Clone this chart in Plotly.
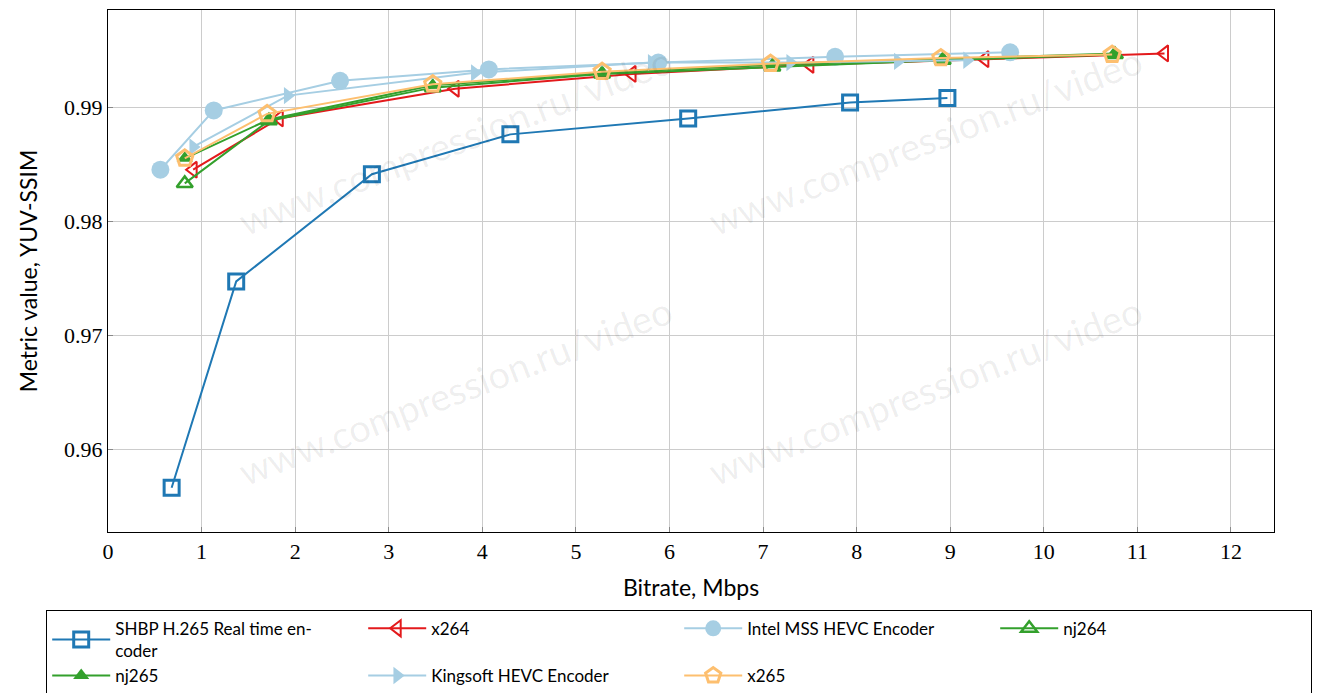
import plotly.graph_objects as go

shbp_x = [0.68, 1.37, 2.82, 4.30, 6.20, 7.93, 8.97]
shbp_y = [0.9566, 0.9747, 0.9841, 0.9876, 0.9890, 0.9904, 0.9908]

x264_x = [0.91, 1.83, 3.71, 5.60, 7.50, 9.37, 11.29]
x264_y = [0.9845, 0.9890, 0.9916, 0.9929, 0.9937, 0.9942, 0.9947]

intel_x = [0.56, 1.13, 2.48, 4.07, 5.88, 7.77, 9.64]
intel_y = [0.9845, 0.9897, 0.9923, 0.9933, 0.9939, 0.9944, 0.9948]

nj264_x = [0.82, 1.72, 3.47, 5.28, 7.10, 8.92, 10.76]
nj264_y = [0.9833, 0.9888, 0.9917, 0.9929, 0.9935, 0.9941, 0.9946]

nj265_x = [0.82, 1.72, 3.47, 5.28, 7.10, 8.92, 10.76]
nj265_y = [0.9855, 0.9889, 0.9919, 0.9930, 0.9937, 0.9942, 0.9947]

kingsoft_x = [0.91, 1.92, 3.92, 5.81, 7.29, 8.44, 9.18]
kingsoft_y = [0.9865, 0.9910, 0.9930, 0.9939, 0.9939, 0.9940, 0.9941]

x265_x = [0.82, 1.70, 3.47, 5.28, 7.08, 8.90, 10.73]
x265_y = [0.9855, 0.9894, 0.9920, 0.9931, 0.9938, 0.9943, 0.9946]

x_ticks = [0, 1, 2, 3, 4, 5, 6, 7, 8, 9, 10, 11, 12]
y_ticks = [0.96, 0.97, 0.98, 0.99]
y_tick_labels = ["0.96", "0.97", "0.98", "0.99"]

series = [
    ("SHBP H.265 Real time en-<br>coder", shbp_x, shbp_y, "#1f78b4", "square-open", 15, 3),
    ("x264", x264_x, x264_y, "#e31a1c", "triangle-left-open", 14, 2),
    ("Intel MSS HEVC Encoder", intel_x, intel_y, "#a6cee3", "circle", 18, 0),
    ("nj264", nj264_x, nj264_y, "#33a02c", "triangle-up-open", 14, 2.5),
    ("nj265", nj265_x, nj265_y, "#33a02c", "triangle-up", 14, 0),
    ("Kingsoft HEVC Encoder", kingsoft_x, kingsoft_y, "#a6cee3", "triangle-right", 15, 0),
    ("x265", x265_x, x265_y, "#fdbf6f", "pentagon-open", 17, 3),
]

fig = go.Figure()
for name, xs, ys, col, sym, size, mlw in series:
    fig.add_trace(go.Scatter(
        x=xs, y=ys, name=name, mode="lines+markers",
        line=dict(color=col, width=2),
        marker=dict(symbol=sym, size=size, color=col,
                    line=dict(color=col, width=mlw)),
    ))

wm = "www.compression.ru/video"
for wx, wy in [(0.2976, 0.751), (0.7007, 0.751), (0.2976, 0.272), (0.7007, 0.272)]:
    fig.add_annotation(x=wx, y=wy, xref="paper", yref="paper", text=wm,
                       showarrow=False, textangle=-21,
                       xanchor="center", yanchor="middle",
                       font=dict(family="Lato", size=38, color="rgba(0,0,0,0.07)"))

fig.update_layout(
    width=1338, height=693,
    margin=dict(l=108, r=64, t=10, b=161, autoexpand=False),
    paper_bgcolor="white", plot_bgcolor="white",
    font=dict(family="Lato", color="black"),
    xaxis=dict(
        range=[0, 12.46], tickvals=x_ticks, ticktext=[str(v) for v in x_ticks],
        showgrid=True, gridcolor="#cccccc", gridwidth=1,
        showline=True, linecolor="black", linewidth=1, mirror=True,
        ticks="inside", ticklen=5, tickcolor="#888888",
        tickfont=dict(family="Liberation Serif", size=22),
        title=dict(text="Bitrate, Mbps", font=dict(family="Lato", size=23), standoff=16),
        zeroline=False,
    ),
    yaxis=dict(
        range=[0.95272, 0.99851], tickvals=y_ticks, ticktext=y_tick_labels,
        showgrid=True, gridcolor="#cccccc", gridwidth=1,
        showline=True, linecolor="black", linewidth=1, mirror=True,
        ticks="inside", ticklen=5, tickcolor="#888888",
        tickfont=dict(family="Liberation Serif", size=22),
        title=dict(text="Metric value, YUV-SSIM", font=dict(family="Lato", size=23), standoff=20),
        zeroline=False,
    ),
    legend=dict(
        orientation="h", x=-0.053, y=-0.149, xanchor="left", yanchor="top",
        bordercolor="black", borderwidth=1, bgcolor="white",
        entrywidth=243, entrywidthmode="pixels", itemwidth=58,
        font=dict(family="Lato", size=17),
        tracegroupgap=0,
    ),
)

fig.write_html("out.html")
